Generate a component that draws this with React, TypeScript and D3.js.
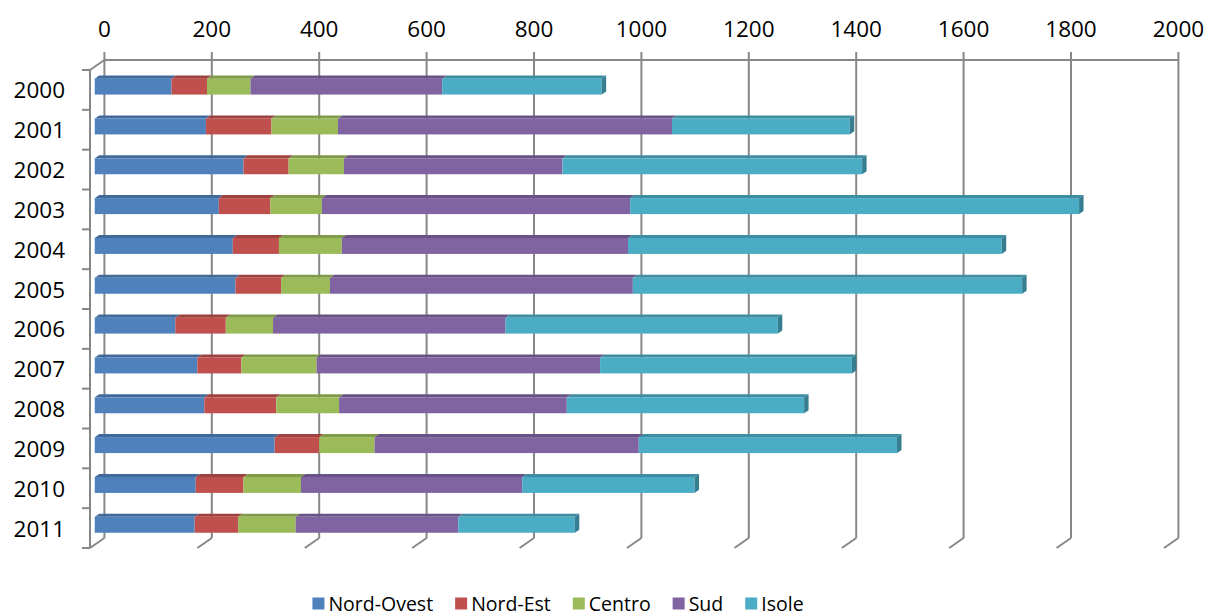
import React, { useEffect, useRef } from "react";
import * as d3 from "d3";

const years = ["2000", "2001", "2002", "2003", "2004", "2005", "2006", "2007", "2008", "2009", "2010", "2011"];
const seriesNames = ["Nord-Ovest", "Nord-Est", "Centro", "Sud", "Isole"];
const nordOvest = [143, 207, 277, 231, 257, 262, 150, 191, 204, 335, 188, 186];
const nordEst = [66, 122, 84, 96, 86, 85, 94, 82, 134, 83, 89, 81];
const centro = [81, 124, 103, 96, 117, 91, 88, 140, 117, 103, 107, 107];
const sud = [357, 622, 407, 574, 533, 564, 433, 528, 424, 492, 412, 303];
const isole = [297, 331, 558, 836, 696, 725, 507, 469, 442, 481, 321, 217];
const tickValues = [0, 200, 400, 600, 800, 1000, 1200, 1400, 1600, 1800, 2000];
const colors = ["#4F81BD", "#C0504D", "#9BBB59", "#8064A2", "#4BACC6"];

const W = 1208;
const H = 616;
const FONT = "'Open Sans', 'Liberation Sans', sans-serif";

export default function App() {
  const ref = useRef<SVGSVGElement>(null);

  useEffect(() => {
    const svg = d3.select(ref.current);
    svg.selectAll("*").remove();

    const series = [nordOvest, nordEst, centro, sud, isole];
    const depthX = 14.4;
    const depthY = 10;
    const top = 60;
    const bottom = 538;

    const x = d3.scaleLinear().domain([0, 2000]).range([104.4, 1178.4]);
    const y = d3.scaleBand().domain(years).range([top, bottom]).paddingInner(0.6).paddingOuter(0.3);

    const proj = (v: number, yy: number, d: number): [number, number] => [x(v) - depthX * d, yy + depthY * d];

    const grid = svg.append("g").attr("stroke", "#878787").attr("stroke-width", 2).attr("fill", "none");

    tickValues.forEach((t) => {
      grid.append("line").attr("x1", x(t)).attr("x2", x(t)).attr("y1", top - 8).attr("y2", bottom);
      const [fx, fy] = proj(t, bottom, 1);
      grid.append("line").attr("x1", x(t)).attr("y1", bottom).attr("x2", fx).attr("y2", fy);
    });
    grid.append("line").attr("x1", x(0)).attr("x2", x(2000)).attr("y1", top).attr("y2", top);
    const [lx0, ly0] = proj(0, top, 1);
    const [lx1, ly1] = proj(0, bottom, 1);
    grid.append("line").attr("x1", x(0)).attr("y1", top).attr("x2", lx0).attr("y2", ly0);
    grid.append("line").attr("x1", lx0).attr("y1", ly0).attr("x2", lx1).attr("y2", ly1);
    const step = (bottom - top) / years.length;
    d3.range(years.length + 1).forEach((k) => {
      const yy = ly0 + k * step;
      grid.append("line").attr("x1", lx0 - 8).attr("x2", lx0).attr("y1", yy).attr("y2", yy);
    });

    svg
      .append("g")
      .selectAll("text")
      .data(tickValues)
      .join("text")
      .attr("x", (d) => x(d))
      .attr("y", 36.5)
      .attr("text-anchor", "middle")
      .attr("font-family", FONT)
      .attr("font-size", 22.5)
      .attr("fill", "#000")
      .text((d) => String(d));

    svg
      .append("g")
      .selectAll("text")
      .data(years)
      .join("text")
      .attr("x", 65)
      .attr("y", (d) => (y(d) as number) + y.bandwidth() / 2 + depthY)
      .attr("dominant-baseline", "central")
      .attr("text-anchor", "end")
      .attr("font-family", FONT)
      .attr("font-size", 22.5)
      .attr("fill", "#000")
      .text((d) => d);

    const dFront = 0.67;
    const dBack = 0.36;
    const bars = svg.append("g");
    years.forEach((yr, i) => {
      const yt = y(yr) as number;
      const yb = yt + y.bandwidth();
      let cum = 0;
      series.forEach((s, si) => {
        const v0 = cum;
        const v1 = cum + s[i];
        cum = v1;
        const c = colors[si];
        const topC = d3.rgb(c).darker(0.55).toString();
        const sideC = d3.rgb(c).darker(0.9).toString();
        const a = proj(v0, yt, dFront);
        const b = proj(v1, yt, dFront);
        const bb = proj(v1, yb, dFront);
        const a2 = proj(v0, yt, dBack);
        const b2 = proj(v1, yt, dBack);
        const bb2 = proj(v1, yb, dBack);
        bars
          .append("path")
          .attr("d", `M${a[0]},${a[1]}L${b[0]},${b[1]}L${b2[0]},${b2[1]}L${a2[0]},${a2[1]}Z`)
          .attr("fill", topC);
        bars
          .append("rect")
          .attr("x", a[0])
          .attr("y", a[1])
          .attr("width", b[0] - a[0])
          .attr("height", bb[1] - b[1])
          .attr("fill", c);
        if (si === series.length - 1) {
          bars
            .append("path")
            .attr("d", `M${b[0]},${b[1]}L${b2[0]},${b2[1]}L${bb2[0]},${bb2[1]}L${bb[0]},${bb[1]}Z`)
            .attr("fill", sideC);
        }
      });
    });

    const legend = svg.append("g");
    const items: { g: any; w: number }[] = [];
    seriesNames.forEach((name, i) => {
      const g = legend.append("g");
      g.append("rect").attr("x", 0).attr("y", -13).attr("width", 12).attr("height", 12).attr("fill", colors[i]);
      const t = g
        .append("text")
        .attr("x", 16)
        .attr("y", 0)
        .attr("font-family", FONT)
        .attr("font-size", 19.5)
        .attr("fill", "#000")
        .text(name);
      const tw = (t.node() as SVGTextElement).getComputedTextLength();
      items.push({ g, w: 16 + tw });
    });
    const gap = 22;
    const total = d3.sum(items, (d) => d.w) + gap * (items.length - 1);
    let cx = 558 - total / 2;
    items.forEach((it) => {
      it.g.attr("transform", `translate(${cx},610.5)`);
      cx += it.w + gap;
    });
  }, []);

  return (
    <svg
      ref={ref}
      width={W}
      height={H}
      style={{ position: "absolute", left: 0, top: 0, background: "#fff" }}
    />
  );
}
